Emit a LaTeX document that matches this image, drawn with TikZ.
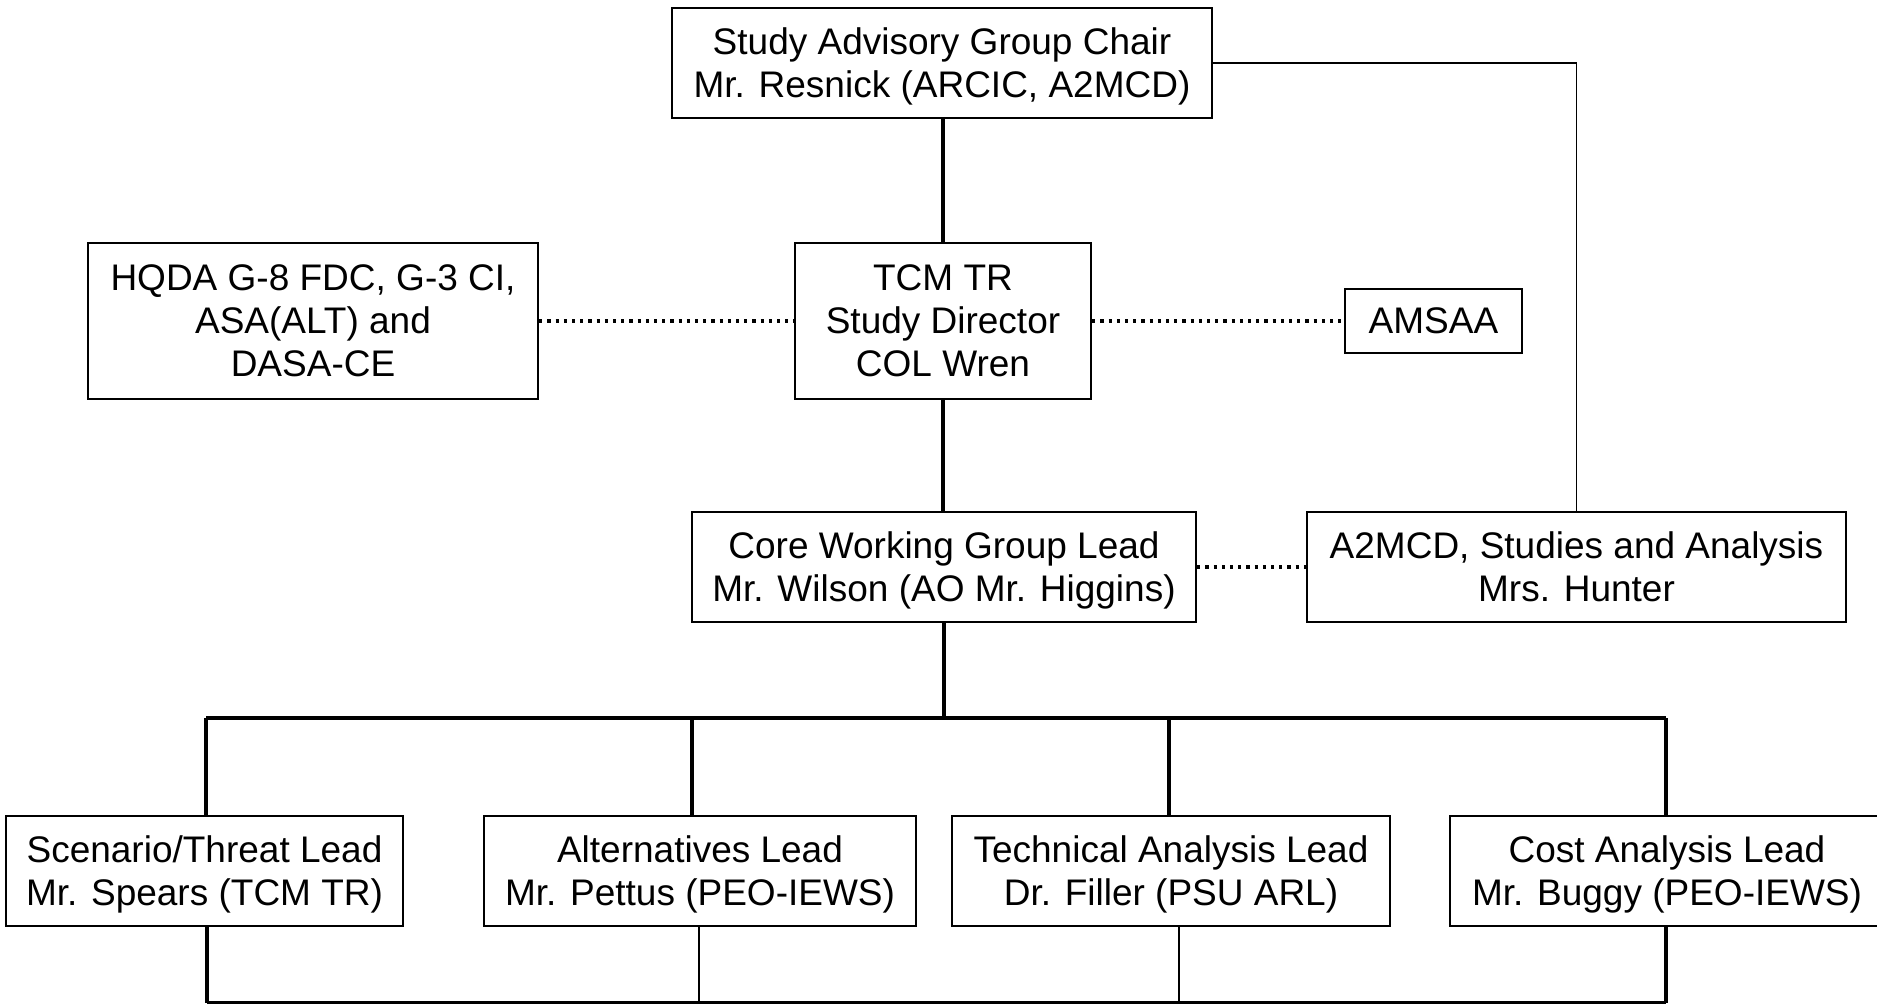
\documentclass[tikz,border=0pt]{standalone}
\usepackage{fontspec}
\setmainfont{Liberation Sans}
\begin{document}
\begin{tikzpicture}[x=1pt,y=-1pt,
  box/.style={draw, line width=2.5pt, inner sep=0pt, align=center, text depth=0pt,
    minimum height=110pt, font=\fontsize{37}{43}\selectfont},
  thickline/.style={line width=3.3pt},
  busline/.style={line width=3.6pt},
  thinline/.style={line width=1.8pt},
  hairline/.style={line width=1.6pt},
  dotline/.style={line width=3.2pt, dash pattern=on 3.2pt off 5pt}]
\useasboundingbox (0,0) rectangle (1877,1004);
\clip (0,0) rectangle (1877,1004);
\fill[white] (0,0) rectangle (1877,1004);

% nodes
\node[box, minimum width=540pt] (sag) at (942,63) {Study Advisory Group Chair\\Mr. Resnick (ARCIC, A2MCD)};
\node[box, minimum width=296pt, minimum height=156pt] (tcm) at (943,321) {TCM TR\\Study Director\\COL Wren};
\node[box, minimum width=450pt, minimum height=156pt] (hqda) at (313,321) {HQDA G-8 FDC, G-3 CI,\\ASA(ALT) and\\DASA-CE};
\node[box, minimum width=177pt, minimum height=64pt] (amsaa) at (1433.5,321) {AMSAA};
\node[box, minimum width=504pt] (core) at (944,567) {Core Working Group Lead\\Mr. Wilson (AO Mr. Higgins)};
\node[box, minimum width=539pt] (a2mcd) at (1576.5,567) {A2MCD, Studies and Analysis\\Mrs. Hunter};
\node[box, minimum width=397pt] (scen) at (204.5,871) {Scenario/Threat Lead\\Mr. Spears (TCM TR)};
\node[box, minimum width=432pt] (alt) at (700,871) {Alternatives Lead\\Mr. Pettus (PEO-IEWS)};
\node[box, minimum width=438pt] (tech) at (1171,871) {Technical Analysis Lead\\Dr. Filler (PSU ARL)};
\node[box, minimum width=434pt] (cost) at (1667,871) {Cost Analysis Lead\\Mr. Buggy (PEO-IEWS)};

% bus coordinates
\coordinate (b1) at (206,718);
\coordinate (b2) at (692,718);
\coordinate (b3) at (1169,718);
\coordinate (b4) at (1666,718);
\coordinate (bot) at (0,1003);

% hierarchy connectors
\draw[thickline] (tcm.north) -- (tcm.north |- sag.south);
\draw[thickline] (tcm.south) -- (tcm.south |- core.north);
\draw[thickline] (core.south) -- (core.south |- b1);
\draw[busline] (b1) -- (b4);
\draw[thickline] (b1) -- (b1 |- scen.north);
\draw[thickline] (b2) -- (b2 |- alt.north);
\draw[thickline] (b3) -- (b3 |- tech.north);
\draw[thickline] (b4) -- (b4 |- cost.north);

% right connector
\draw[thinline] (sag.east) -| (a2mcd.north);

% dotted links
\draw[dotline] (hqda.east) -- (tcm.west);
\draw[dotline] (tcm.east) -- (amsaa.west);
\draw[dotline] (core.east) -- (a2mcd.west);

% lower lines
\draw[thickline] ([xshift=2.5pt]scen.south) -- ([xshift=2.5pt]scen.south |- bot);
\draw[hairline] ([xshift=-1pt]alt.south) -- ([xshift=-1pt]alt.south |- bot);
\draw[hairline] ([xshift=8pt]tech.south) -- ([xshift=8pt]tech.south |- bot);
\draw[thickline] ([xshift=-1pt]cost.south) -- ([xshift=-1pt]cost.south |- bot);
\draw[thickline] ([xshift=2.5pt]scen.south |- bot) -- ([xshift=-1pt]cost.south |- bot);
\end{tikzpicture}
\end{document}
